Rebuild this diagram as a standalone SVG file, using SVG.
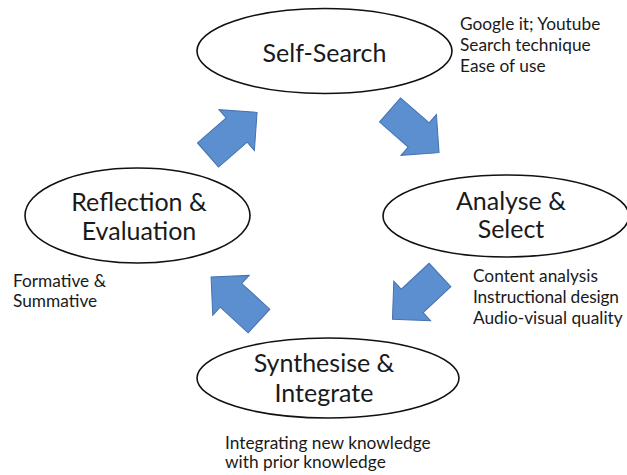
<svg xmlns="http://www.w3.org/2000/svg" width="627" height="475" viewBox="0 0 627 475">
<style>
.node ellipse{fill:#fff;stroke:#111;stroke-width:1.6}
.t{font-family:Lato,"Open Sans",sans-serif;font-size:25px;fill:#1a1a1a;text-anchor:middle}
.n{font-family:Lato,"Open Sans",sans-serif;font-size:17.3px;fill:#1a1a1a}
.arr{fill:#5B8FCF;stroke:#4572AE;stroke-width:1}
</style>
<defs>
<polygon id="blk" points="0,-16 38,-16 38,-27 65,0 38,27 38,16 0,16"/>
</defs>
<rect width="627" height="475" fill="#fff"/>
<g id="connectors">
<use href="#blk" class="arr" transform="translate(208,155) rotate(-41)"/>
<use href="#blk" class="arr" transform="translate(390,110) rotate(41)"/>
<use href="#blk" class="arr" transform="translate(440,275) rotate(137)"/>
<use href="#blk" class="arr" transform="translate(259,321) rotate(-137.5)"/>
</g>
<g id="self-search" class="node">
<ellipse cx="324.5" cy="51" rx="127.5" ry="42.5"/>
<text class="t" x="324.5" y="62">Self-Search</text>
</g>
<g id="analyse-select" class="node">
<ellipse cx="506" cy="216" rx="123" ry="41"/>
<text class="t" x="511" y="210">Analyse &amp;</text>
<text class="t" x="511" y="238">Select</text>
</g>
<g id="reflection-evaluation" class="node">
<ellipse cx="137.5" cy="215.5" rx="112.5" ry="47.5"/>
<text class="t" x="139" y="211">Reflection &amp;</text>
<text class="t" x="139" y="240">Evaluation</text>
</g>
<g id="synthesise-integrate" class="node">
<ellipse cx="328" cy="378" rx="131" ry="40"/>
<text class="t" x="324" y="372">Synthesise &amp;</text>
<text class="t" x="324" y="402">Integrate</text>
</g>
<g id="notes">
<text class="n" x="460" y="30">Google it; Youtube</text>
<text class="n" x="460" y="51">Search technique</text>
<text class="n" x="460" y="72">Ease of use</text>
<text class="n" x="473" y="282">Content analysis</text>
<text class="n" x="473" y="303" textLength="146" lengthAdjust="spacing">Instructional design</text>
<text class="n" x="473" y="324">Audio-visual quality</text>
<text class="n" x="13" y="287">Formative &amp;</text>
<text class="n" x="13" y="307">Summative</text>
<text class="n" x="225" y="449">Integrating new knowledge</text>
<text class="n" x="225" y="468">with prior knowledge</text>
</g>
</svg>
